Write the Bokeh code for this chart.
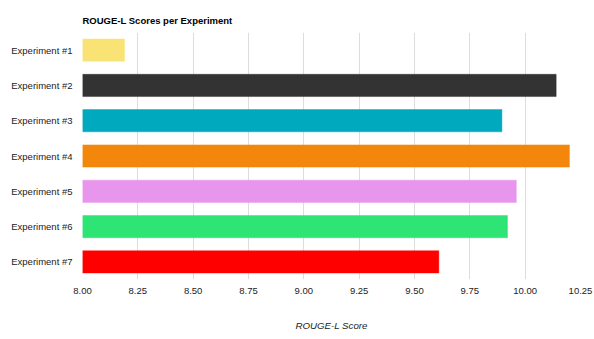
from bokeh.plotting import figure
from bokeh.models import ColumnDataSource, FactorRange, Range1d, FixedTicker, NumeralTickFormatter
from bokeh.embed import file_html
from bokeh.resources import INLINE

experiments = ["Experiment #1", "Experiment #2", "Experiment #3", "Experiment #4",
               "Experiment #5", "Experiment #6", "Experiment #7"]
scores = [8.19, 10.14, 9.895, 10.20, 9.96, 9.92, 9.61]
colors = ["#fae375", "#333333", "#00a9bd", "#f2870b", "#e895ee", "#2de475", "#ff0000"]
x_ticks = [8.00, 8.25, 8.50, 8.75, 9.00, 9.25, 9.50, 9.75, 10.00, 10.25]

src = ColumnDataSource(dict(exp=experiments, score=scores, color=colors,
                            base=[8.0] * len(scores)))

p = figure(width=594, height=339, output_backend="svg", toolbar_location=None,
           y_range=FactorRange(factors=list(reversed(experiments)), range_padding=0),
           x_range=Range1d(8.0, 10.25),
           min_border_left=82, min_border_right=14, min_border_top=32, min_border_bottom=60,
           title="ROUGE-L Scores per Experiment")

p.hbar(y="exp", left="base", right="score", height=0.63, source=src,
       fill_color="color", line_color="color", line_alpha=0.45, line_width=1)

p.title.text_font = "Liberation Sans"
p.title.text_font_size = "9.5px"
p.title.text_font_style = "bold"
p.title.text_color = "#000000"
p.title.align = "left"
p.title.vertical_align = "top"
p.title.offset = 0
p.title.standoff = 10

p.xaxis.ticker = FixedTicker(ticks=x_ticks)
p.xaxis.formatter = NumeralTickFormatter(format="0.00")
p.xaxis.axis_label = "ROUGE-L Score"
p.xaxis.axis_label_text_font = "Liberation Sans"
p.xaxis.axis_label_text_font_style = "italic"
p.xaxis.axis_label_text_font_size = "9.7px"
p.xaxis.axis_label_text_color = "#222222"
p.xaxis.axis_label_standoff = 23

for ax in (p.xaxis, p.yaxis):
    ax.axis_line_color = None
    ax.major_tick_line_color = None
    ax.minor_tick_line_color = None
    ax.major_tick_out = 0
    ax.major_tick_in = 0
    ax.minor_tick_out = 0
    ax.major_label_text_font = "Liberation Sans"
    ax.major_label_text_font_size = "9.5px"
    ax.major_label_text_color = "#222222"
p.xaxis.major_label_standoff = 8
p.yaxis.major_label_standoff = 10

p.ygrid.grid_line_color = None
p.xgrid.grid_line_color = "#dddddd"
p.xgrid.grid_line_width = 1
p.outline_line_color = None

open("out.html", "w").write(file_html(p, INLINE))
